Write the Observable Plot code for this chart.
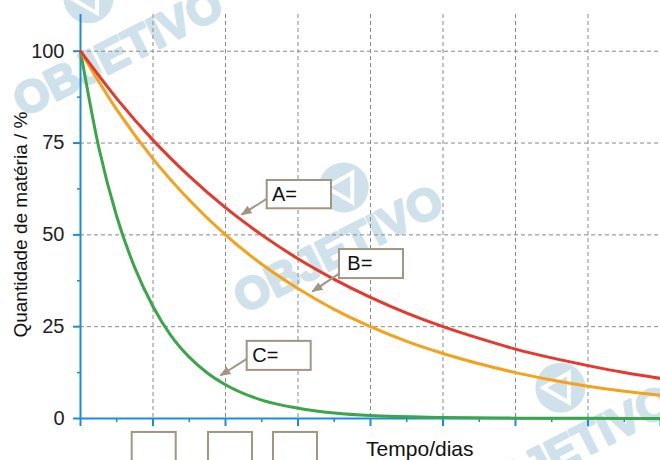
<!DOCTYPE html>
<html><head><meta charset="utf-8">
<script src="https://cdn.jsdelivr.net/npm/d3@7"></script>
<script src="https://cdn.jsdelivr.net/npm/@observablehq/plot@0.6"></script>
<style>
body{margin:0;background:#fff;}
svg{font-family:"Liberation Sans",Arial,Helvetica,sans-serif;}
</style>
</head><body><div id="chart"></div>
<script>
// ---- data ----
const timeAB = [0,0.5,1,1.5,2,2.5,3,3.5,4,4.5,5,5.5,6,6.5,7,7.5,8];
const valuesA = [100,87.1,75.8,66.0,57.4,50.0,43.5,37.9,33.0,28.7,25.0,21.8,18.9,16.5,14.4,12.5,10.9];
const valuesB = [100,84.1,70.7,59.5,50.0,42.0,35.4,29.7,25.0,21.0,17.7,14.9,12.5,10.5,8.8,7.4,6.3];
const timeC = [0,0.25,0.5,0.75,1,1.25,1.5,1.75,2,2.5,3,3.5,4,5,6,7,8];
const valuesC = [100,74,55,41,30.5,22.5,16.7,12.4,9.2,5.0,2.8,1.5,0.8,0.3,0.1,0.05,0];
const xMajor = [0,1,2,3,4,5,6,7,8];
const xMinor = [0.5,1.5,2.5,3.5,4.5,5.5,6.5,7.5];
const xGrid = [1,2,3,4,5,6,7];
const yMajor = [0,25,50,75,100];
const yMinor = [12.5,37.5,62.5,87.5];
const yGrid = [25,50,75,100];
const seriesNames = ["A=","B=","C="];
const xLabel = "Tempo/dias";
const yLabel = "Quantidade de matéria / %";
const watermark = "OBJETIVO";

// ---- build tables ----
const lineA = timeAB.map((t,i)=>({t, v: valuesA[i]}));
const lineB = timeAB.map((t,i)=>({t, v: valuesB[i]}));
const lineC = timeC.map((t,i)=>({t, v: valuesC[i]}));

const blue = "#1c8cd8", red = "#e8372b", orange = "#f7a11a", green = "#3ba648";
const boxStroke = "#a09683", wm = "#cfe2ec";

// annotation layout (data units)
const boxes = [
  {x1:2.575,x2:3.462,y1:57.1,y2:64.8},
  {x1:3.572,x2:4.455,y1:38.1,y2:46.0},
  {x1:2.299,x2:3.182,y1:13.1,y2:21.0}
];
const boxLabels = [
  {x:2.64,y:60.9,text:seriesNames[0]},
  {x:3.68,y:42.1,text:seriesNames[1]},
  {x:2.37,y:17.0,text:seriesNames[2]}
];
const arrows = [
  {x1:2.575,y1:59.9,x2:2.221,y2:55.5},
  {x1:3.572,y1:39.5,x2:3.200,y2:34.6},
  {x1:2.299,y1:16.3,x2:1.931,y2:11.7}
];
const answerBoxes = [
  {x1:0.713,x2:1.320,y1:-3.8,y2:-13},
  {x1:1.766,x2:2.372,y1:-3.8,y2:-13},
  {x1:2.662,x2:3.269,y1:-3.8,y2:-13}
];
const wmTexts = [
  {x:0.52,y:99.5},{x:3.56,y:46.0},{x:6.72,y:-8.5}
];
const wmLogos = [
  {x:0.11,y:114.4},{x:3.63,y:62.9},{x:6.62,y:8.4}
];

const plot = Plot.plot({
  width: 660, height: 460,
  marginLeft: 80, marginRight: 0, marginTop: 14, marginBottom: 42,
  x: {domain:[0,8], axis: null},
  y: {domain:[0,110], axis: null},
  style: {fontFamily: '"Liberation Sans",Arial,sans-serif', background: "#fff", overflow: "visible"},
  marks: [
    // watermark
    Plot.dot(wmLogos, {x:"x", y:"y", r:25, fill: wm}),
    Plot.dot(wmLogos, {x:"x", y:"y", r:11, symbol:"triangle", fill:"none", stroke:"#fff", strokeWidth:4, rotate: 30}),
    Plot.text(wmTexts, {x:"x", y:"y", text: () => watermark, rotate: -27, fontSize: 45, fontWeight: "bold", fill: wm, stroke: wm, strokeWidth: 2.5}),
    // grid
    Plot.gridX(xGrid, {stroke:"#8a8a8a", strokeOpacity:1, strokeWidth:1, strokeDasharray:"4,3"}),
    Plot.gridY(yGrid, {stroke:"#8a8a8a", strokeOpacity:1, strokeWidth:1, strokeDasharray:"4,3"}),
    // axes
    Plot.axisX({ticks: xMajor, tickSize: 8, tickFormat: () => "", stroke: blue, strokeWidth: 2}),
    Plot.axisX({ticks: xMinor, tickSize: 4, tickFormat: () => "", stroke: blue, strokeWidth: 1.5}),
    Plot.axisY({ticks: yMajor, tickSize: 7, tickPadding: 9, stroke: blue, strokeWidth: 2, fill: "#222", fontSize: 20, label: null}),
    Plot.axisY({ticks: yMinor, tickSize: 3, tickFormat: () => "", stroke: blue, strokeWidth: 1.5, label: null}),
    Plot.ruleX([0], {y1: 0, y2: 110, stroke: blue, strokeWidth: 2}),
    Plot.ruleY([0], {x1: 0, x2: 8, stroke: blue, strokeWidth: 2}),
    // curves
    Plot.line(lineC, {x:"t", y:"v", stroke: green, strokeWidth: 3, curve: "monotone-x"}),
    Plot.line(lineB, {x:"t", y:"v", stroke: orange, strokeWidth: 3, curve: "monotone-x"}),
    Plot.line(lineA, {x:"t", y:"v", stroke: red, strokeWidth: 3, curve: "monotone-x"}),
    // annotations
    Plot.link(arrows, {x1:"x1", y1:"y1", x2:"x2", y2:"y2", stroke: boxStroke, strokeWidth: 2, className: "ann-arrow"}),
    Plot.rect(boxes, {x1:"x1", x2:"x2", y1:"y1", y2:"y2", fill:"#fff", stroke: boxStroke, strokeWidth: 2}),
    Plot.text(boxLabels, {x:"x", y:"y", text:"text", textAnchor:"start", fontSize: 20, fill:"#111"}),
    Plot.rect(answerBoxes, {x1:"x1", x2:"x2", y1:"y1", y2:"y2", fill:"#fff", stroke: boxStroke, strokeWidth: 2}),
    // axis titles
    Plot.text([xLabel], {x: 4.68, y: -8.4, text: d => d, fontSize: 21, fill: "#111"}),
    Plot.text([yLabel], {x: -0.82, y: 52.8, text: d => d, rotate: -90, fontSize: 19, fill: "#111"})
  ]
});

const svg = d3.select(plot);
const defs = svg.append("defs");
defs.append("marker")
  .attr("id","tri").attr("markerUnits","userSpaceOnUse")
  .attr("viewBox","0 -4 10 8").attr("refX",9).attr("refY",0)
  .attr("markerWidth",11).attr("markerHeight",9).attr("orient","auto")
  .append("path").attr("d","M0,-4L10,0L0,4Z").attr("fill",boxStroke);
svg.selectAll(".ann-arrow path").attr("marker-end","url(#tri)");

document.getElementById("chart").appendChild(plot);
</script>
</body></html>
